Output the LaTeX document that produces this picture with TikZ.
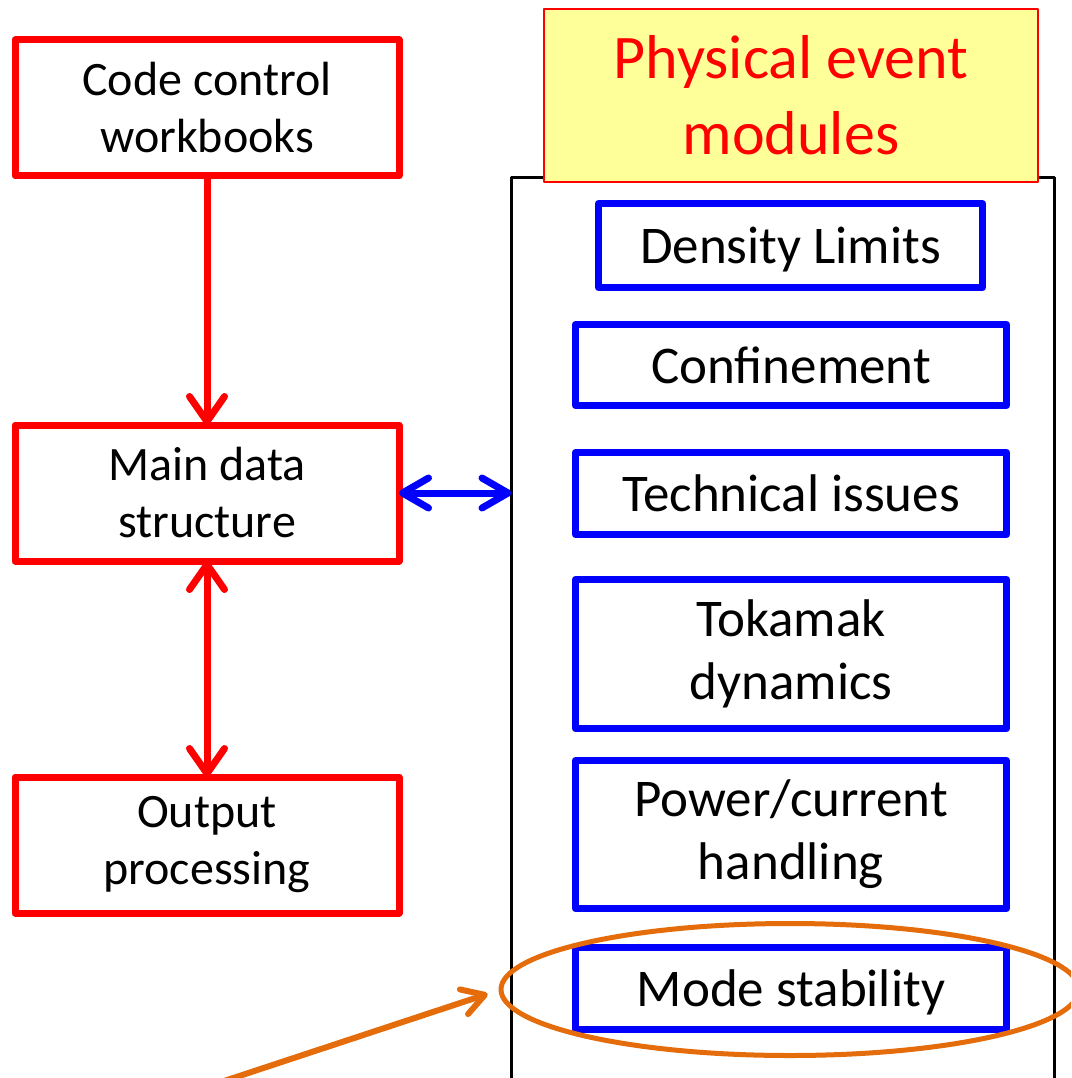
\documentclass[tikz,border=0pt]{standalone}
\usepackage{fontspec}
\setmainfont{Carlito}
\usetikzlibrary{arrows.meta,shapes.geometric}
\definecolor{titleyellow}{RGB}{255,255,153}
\definecolor{ringorange}{RGB}{228,108,10}

\begin{document}
\begin{tikzpicture}[x=1pt, y=-1pt, line join=round,
    every node/.style={inner sep=0pt, outer sep=0pt, align=center},
    redbox/.style={draw=red, line width=7pt, minimum width=384pt, minimum height=136pt, font=\fontsize{48}{57}\selectfont},
    bluebox/.style={draw=blue, line width=7pt, minimum width=431pt, font=\fontsize{53}{63}\selectfont},
    oneline/.style={text height=38pt, text depth=2pt},
    titlebox/.style={draw=red, line width=2pt, fill=titleyellow, text=red, minimum width=494pt, minimum height=173pt, font=\fontsize{62}{76}\selectfont},
    redline/.style={red, line width=7pt, >={Straight Barb[length=25pt, width=35pt, round]}},
    blueline/.style={blue, line width=7pt, >={Straight Barb[length=26pt, width=30pt, round]}},
    orangeline/.style={ringorange, line width=6pt, >={Straight Barb[length=22pt, width=26pt, round]}}]
    \useasboundingbox (0,0) rectangle (1071,1078);
    \clip (0,0) rectangle (1071,1078);

    % left column
    \node[redbox] (code) at (207, 108) {Code control\\workbooks};
    \node[redbox] (main) at (207, 493) {Main data\\structure};
    \node[redbox] (output) at (207, 845) {Output\\processing};

    % module frame and its title
    \node[draw, line width=3pt, minimum width=543pt, minimum height=1023pt] (frame) at (783, 689) {};
    \node[titlebox] (title) at (791, 95.5) {Physical event\\modules};

    % modules
    \node[bluebox, oneline, minimum width=384pt, minimum height=84pt] (density) at (790.5, 245.5) {Density Limits};
    \node[bluebox, oneline, minimum height=81pt] (confine) at (791, 365) {Confinement};
    \node[bluebox, oneline, minimum height=82pt] (technical) at (791, 493.5) {Technical issues};
    \node[bluebox, minimum height=149pt] (tokamak) at (791, 654) {Tokamak\\dynamics};
    \node[bluebox, minimum height=148pt] (power) at (791, 834.5) {Power/current\\handling};
    \node[bluebox, oneline, minimum height=82pt] (mode) at (791, 988.5) {Mode stability};

    % highlight
    \node[ellipse, draw=ringorange, line width=5pt, minimum width=578pt, minimum height=132pt] (ring) at (790, 989.5) {};
    \coordinate (pointer) at (212, 1085);

    % connectors
    \draw[redline, ->] (code) -- (main);
    \draw[redline, <->] (main) -- (output);
    \draw[blueline, <->] (main.east) -- (main.east -| frame.west);
    \draw[orangeline, ->, shorten >=14pt] (pointer) -- (ring.west);
\end{tikzpicture}
\end{document}
